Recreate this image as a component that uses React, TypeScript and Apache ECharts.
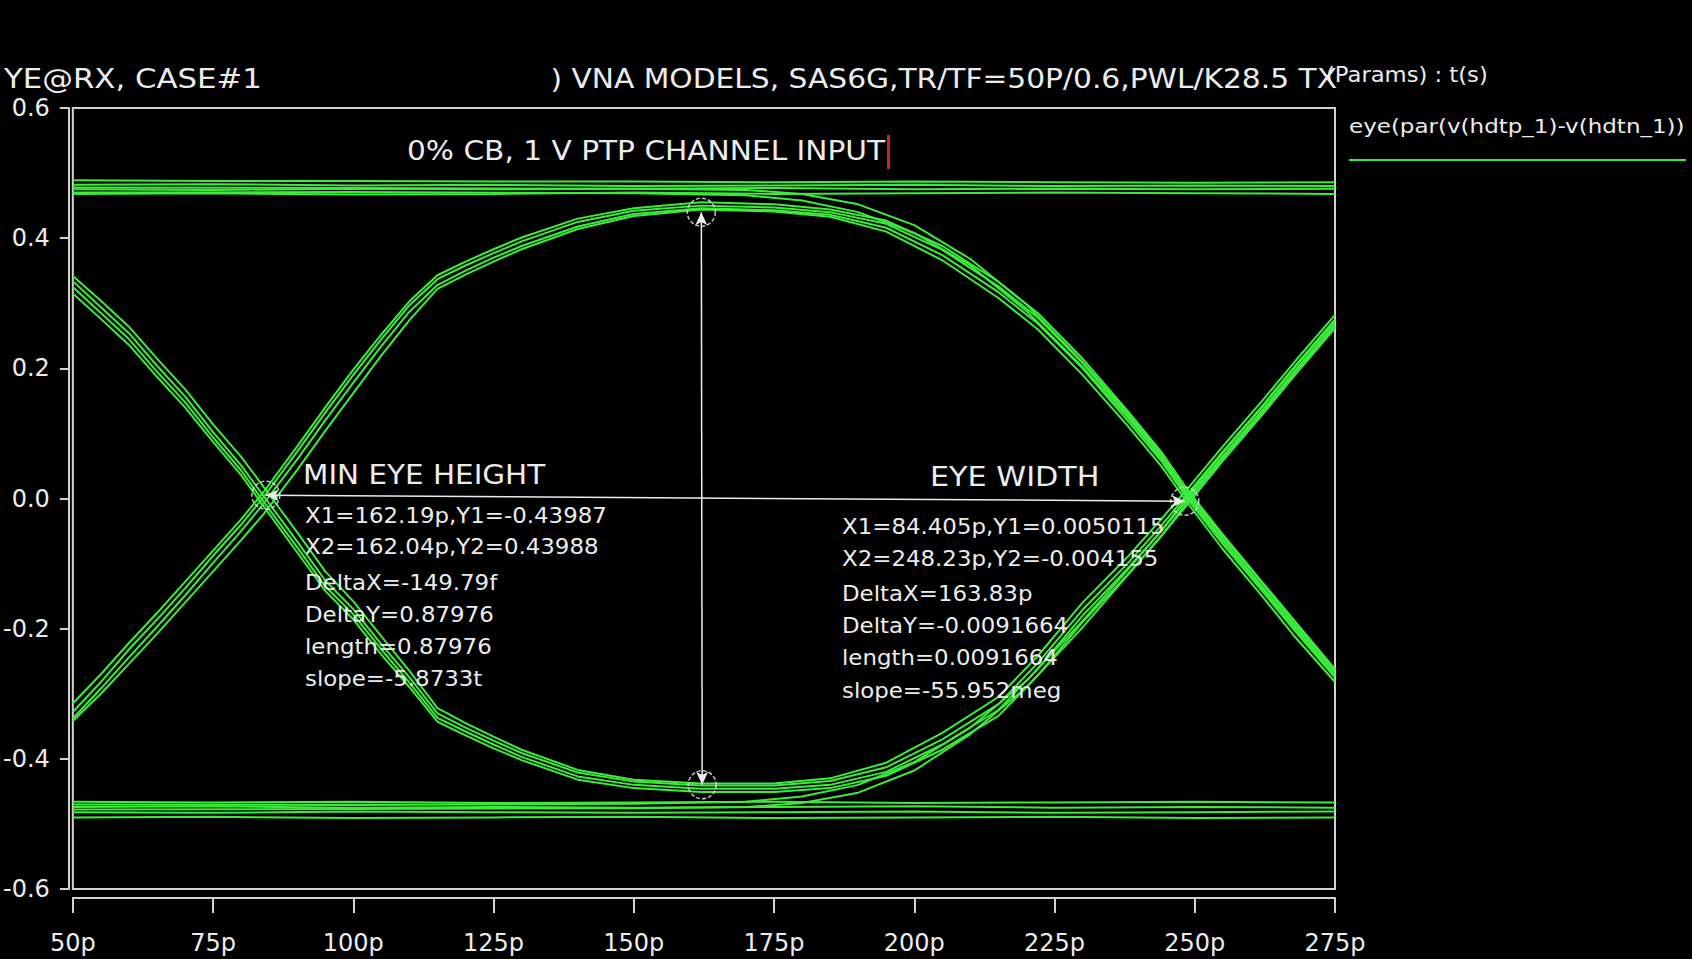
import React, { useEffect, useRef } from "react";
import * as echarts from "echarts";

// ---- time samples (ps) for the eye traces ----
const T = [50, 55, 60, 65, 70, 75, 80, 84, 90, 95, 100, 105, 110, 115, 120, 125, 130, 140, 150, 162, 175, 185, 195, 205, 215, 222, 230, 238, 244, 249, 255, 262, 268, 275];

// rising from the left crossing, upper eye boundary, falling into the right crossing
const ARCH_UP_1 = [-0.328, -0.282, -0.232, -0.186, -0.138, -0.088, -0.04, 0.002, 0.072, 0.132, 0.19, 0.245, 0.297, 0.337, 0.358, 0.377, 0.395, 0.425, 0.442, 0.45, 0.447, 0.44, 0.422, 0.382, 0.326, 0.278, 0.208, 0.128, 0.065, 0.003, -0.062, -0.135, -0.198, -0.268];
const ARCH_UP_2 = [-0.315, -0.27, -0.222, -0.176, -0.128, -0.08, -0.032, 0.01, 0.08, 0.14, 0.198, 0.252, 0.303, 0.343, 0.364, 0.383, 0.401, 0.43, 0.446, 0.455, 0.452, 0.444, 0.427, 0.388, 0.333, 0.285, 0.215, 0.135, 0.072, 0.01, -0.055, -0.128, -0.19, -0.262];
const ARCH_UP_3 = [-0.338, -0.292, -0.244, -0.197, -0.149, -0.099, -0.05, -0.008, 0.06, 0.12, 0.178, 0.234, 0.287, 0.328, 0.35, 0.37, 0.388, 0.418, 0.437, 0.446, 0.443, 0.436, 0.416, 0.374, 0.317, 0.269, 0.2, 0.12, 0.058, -0.004, -0.07, -0.142, -0.205, -0.275];
const ARCH_UP_4 = [-0.342, -0.3, -0.254, -0.208, -0.16, -0.112, -0.064, -0.024, 0.044, 0.104, 0.162, 0.22, 0.274, 0.322, 0.344, 0.364, 0.383, 0.414, 0.434, 0.444, 0.441, 0.433, 0.41, 0.366, 0.308, 0.26, 0.19, 0.112, 0.05, -0.01, -0.078, -0.15, -0.214, -0.282];

// falling from the left crossing, lower eye boundary, rising into the right crossing
const ARCH_DOWN_1 = [0.325, 0.285, 0.245, 0.195, 0.148, 0.094, 0.043, -0.005, -0.075, -0.135, -0.178, -0.232, -0.283, -0.337, -0.358, -0.378, -0.397, -0.427, -0.44, -0.446, -0.446, -0.44, -0.42, -0.378, -0.325, -0.262, -0.18, -0.108, -0.05, 0.002, 0.065, 0.135, 0.198, 0.268];
const ARCH_DOWN_2 = [0.315, 0.276, 0.236, 0.187, 0.14, 0.087, 0.036, -0.012, -0.083, -0.142, -0.186, -0.24, -0.29, -0.343, -0.364, -0.384, -0.402, -0.432, -0.445, -0.451, -0.451, -0.445, -0.426, -0.386, -0.334, -0.272, -0.19, -0.117, -0.058, -0.006, 0.058, 0.128, 0.191, 0.262];
const ARCH_DOWN_3 = [0.334, 0.294, 0.254, 0.204, 0.157, 0.102, 0.051, 0.004, -0.066, -0.126, -0.17, -0.224, -0.275, -0.33, -0.352, -0.372, -0.391, -0.421, -0.435, -0.441, -0.441, -0.434, -0.413, -0.37, -0.316, -0.253, -0.171, -0.1, -0.042, 0.01, 0.072, 0.142, 0.205, 0.275];
const ARCH_DOWN_4 = [0.342, 0.304, 0.264, 0.215, 0.168, 0.114, 0.064, 0.018, -0.052, -0.112, -0.158, -0.212, -0.265, -0.322, -0.345, -0.366, -0.386, -0.417, -0.432, -0.438, -0.438, -0.43, -0.406, -0.36, -0.305, -0.242, -0.16, -0.09, -0.032, 0.018, 0.08, 0.15, 0.212, 0.282];

// long runs of ones / zeros
const FLAT_T = [50, 75, 100, 125, 150, 175, 200, 225, 250, 275];
const TOP_FLAT_1 = [0.489, 0.488, 0.488, 0.487, 0.487, 0.486, 0.487, 0.486, 0.485, 0.486];
const TOP_FLAT_2 = [0.482, 0.483, 0.481, 0.482, 0.48, 0.481, 0.482, 0.48, 0.481, 0.48];
const TOP_FLAT_3 = [0.475, 0.474, 0.476, 0.475, 0.476, 0.477, 0.475, 0.476, 0.475, 0.476];
const TOP_FLAT_4 = [0.468, 0.469, 0.467, 0.468, 0.47, 0.468, 0.469, 0.47, 0.469, 0.468];
const BOT_FLAT_1 = [-0.466, -0.467, -0.466, -0.468, -0.467, -0.466, -0.468, -0.467, -0.466, -0.467];
const BOT_FLAT_2 = [-0.474, -0.473, -0.475, -0.474, -0.475, -0.474, -0.473, -0.475, -0.474, -0.475];
const BOT_FLAT_3 = [-0.482, -0.483, -0.481, -0.482, -0.483, -0.482, -0.481, -0.483, -0.482, -0.481];
const BOT_FLAT_4 = [-0.49, -0.489, -0.491, -0.49, -0.489, -0.491, -0.49, -0.489, -0.491, -0.49];

// runs that leave the rails near the right crossing
const TRANS_T = [50, 100, 150, 170, 180, 190, 200, 210, 220, 230, 238, 244, 249, 255, 262, 268, 275];
const TOP_TO_FALL_1 = [0.478, 0.477, 0.476, 0.474, 0.468, 0.452, 0.42, 0.368, 0.298, 0.21, 0.132, 0.068, 0.006, -0.058, -0.13, -0.194, -0.265];
const TOP_TO_FALL_2 = [0.47, 0.471, 0.469, 0.466, 0.458, 0.44, 0.408, 0.358, 0.288, 0.202, 0.125, 0.062, 0.0, -0.066, -0.138, -0.201, -0.272];
const BOT_TO_RISE_1 = [-0.478, -0.477, -0.476, -0.474, -0.468, -0.452, -0.418, -0.362, -0.29, -0.198, -0.118, -0.058, -0.002, 0.062, 0.132, 0.195, 0.265];
const BOT_TO_RISE_2 = [-0.47, -0.471, -0.469, -0.466, -0.458, -0.44, -0.405, -0.352, -0.28, -0.188, -0.11, -0.05, 0.006, 0.07, 0.14, 0.203, 0.272];

// cursors
const HEIGHT_CURSOR = [[162.04, 0.43988], [162.19, -0.43987]];
const WIDTH_CURSOR = [[84.405, 0.0050115], [248.23, -0.004155]];

// texts
const TITLE_LEFT = "YE@RX, CASE#1";
const TITLE_RIGHT = ") VNA MODELS, SAS6G,TR/TF=50P/0.6,PWL/K28.5 TX";
const PARAMS_TEXT = "(Params) : t(s)";
const LEGEND_TEXT = "eye(par(v(hdtp_1)-v(hdtn_1))";
const SUBTITLE = "0% CB, 1 V PTP CHANNEL INPUT";
const MIN_EYE_TITLE = "MIN EYE HEIGHT";
const MIN_EYE_LINES = ["X1=162.19p,Y1=-0.43987", "X2=162.04p,Y2=0.43988", "DeltaX=-149.79f", "DeltaY=0.87976", "length=0.87976", "slope=-5.8733t"];
const EYE_WIDTH_TITLE = "EYE WIDTH";
const EYE_WIDTH_LINES = ["X1=84.405p,Y1=0.0050115", "X2=248.23p,Y2=-0.004155", "DeltaX=163.83p", "DeltaY=-0.0091664", "length=0.0091664", "slope=-55.952meg"];

const GREEN = "#3bec3b";
const WHITE = "#ececec";
const FRAME = "#d2d2d2";
const FONT = "DejaVu Sans";

function trace(name: string, xs: number[], ys: number[]) {
  return {
    type: "line",
    name,
    data: xs.map((x, i) => [x, ys[i]]),
    showSymbol: false,
    symbol: "none",
    silent: true,
    z: 2,
    lineStyle: { color: GREEN, width: 2 },
  };
}

function txt(text: string, x: number, y: number, size: number, sx = 1, align = "left", fill = WHITE) {
  return {
    type: "text",
    x,
    y,
    scaleX: sx,
    z: 10,
    silent: true,
    style: { text, fill, fontSize: size, fontFamily: FONT, align, verticalAlign: "middle" },
  };
}

export default function App() {
  const ref = useRef<HTMLDivElement>(null);
  useEffect(() => {
    if (!ref.current) return;
    const chart = echarts.init(ref.current, null, { renderer: "svg" });
    const series: any[] = [
      trace("up1", T, ARCH_UP_1),
      trace("up2", T, ARCH_UP_2),
      trace("up3", T, ARCH_UP_3),
      trace("up4", T, ARCH_UP_4),
      trace("down1", T, ARCH_DOWN_1),
      trace("down2", T, ARCH_DOWN_2),
      trace("down3", T, ARCH_DOWN_3),
      trace("down4", T, ARCH_DOWN_4),
      trace("top1", FLAT_T, TOP_FLAT_1),
      trace("top2", FLAT_T, TOP_FLAT_2),
      trace("top3", FLAT_T, TOP_FLAT_3),
      trace("top4", FLAT_T, TOP_FLAT_4),
      trace("bot1", FLAT_T, BOT_FLAT_1),
      trace("bot2", FLAT_T, BOT_FLAT_2),
      trace("bot3", FLAT_T, BOT_FLAT_3),
      trace("bot4", FLAT_T, BOT_FLAT_4),
      trace("tf1", TRANS_T, TOP_TO_FALL_1),
      trace("tf2", TRANS_T, TOP_TO_FALL_2),
      trace("br1", TRANS_T, BOT_TO_RISE_1),
      trace("br2", TRANS_T, BOT_TO_RISE_2),
      {
        type: "line",
        name: "cursors",
        data: [],
        silent: true,
        z: 5,
        markLine: {
          silent: true,
          animation: false,
          symbol: ["arrow", "arrow"],
          symbolSize: [9, 13],
          label: { show: false },
          lineStyle: { color: WHITE, width: 1.5, type: "solid" },
          data: [
            [{ coord: HEIGHT_CURSOR[0] }, { coord: HEIGHT_CURSOR[1] }],
            [{ coord: WIDTH_CURSOR[0] }, { coord: WIDTH_CURSOR[1] }],
          ],
        },
      },
      {
        type: "scatter",
        name: "cursorRings",
        data: [...HEIGHT_CURSOR, ...WIDTH_CURSOR],
        symbol: "circle",
        symbolSize: 28,
        silent: true,
        z: 6,
        itemStyle: { color: "rgba(0,0,0,0)", borderColor: WHITE, borderWidth: 1.5, borderType: [4, 2] },
      },
    ];

    const graphic: any[] = [
      txt(TITLE_LEFT, 4, 79, 27, 1.14),
      txt(TITLE_RIGHT, 1337, 79, 27, 1.1, "right"),
      txt(PARAMS_TEXT, 1326, 75, 21, 1.08),
      txt(LEGEND_TEXT, 1349, 126, 20, 1.15),
      { type: "line", z: 10, silent: true, shape: { x1: 1349, y1: 160, x2: 1686, y2: 160 }, style: { stroke: GREEN, lineWidth: 2 } },
      txt(SUBTITLE, 407, 151, 26, 1.14),
      { type: "rect", z: 10, silent: true, shape: { x: 887, y: 135, width: 3, height: 34 }, style: { fill: "#c4262a" } },
      txt(MIN_EYE_TITLE, 303, 475, 27, 1.09),
      txt(EYE_WIDTH_TITLE, 930, 477, 27, 1.12),
    ];
    const leftY = [516, 547, 583, 615, 647, 679];
    MIN_EYE_LINES.forEach((s, i) => graphic.push(txt(s, 305, leftY[i], 21, 1.09)));
    const rightY = [527, 559, 594, 626, 658, 691];
    EYE_WIDTH_LINES.forEach((s, i) => graphic.push(txt(s, 842, rightY[i], 21, 1.09)));

    chart.setOption({
      animation: false,
      backgroundColor: "#000",
      grid: {
        left: 71,
        top: 108,
        width: 1264,
        height: 781,
        show: true,
        borderColor: FRAME,
        borderWidth: 2,
        backgroundColor: "#000",
      },
      xAxis: {
        type: "value",
        min: 50,
        max: 275,
        interval: 25,
        offset: 9,
        axisLine: { show: true, onZero: false, lineStyle: { color: FRAME, width: 2 } },
        axisTick: { show: true, length: 15, lineStyle: { color: FRAME, width: 2 } },
        axisLabel: { color: WHITE, fontSize: 24, fontFamily: FONT, margin: 33, formatter: (v: number) => `${v}p` },
        splitLine: { show: false },
      },
      yAxis: {
        type: "value",
        min: -0.6,
        max: 0.6,
        interval: 0.2,
        offset: 4,
        axisLine: { show: true, onZero: false, lineStyle: { color: FRAME, width: 2 } },
        axisTick: { show: true, length: 9, lineStyle: { color: FRAME, width: 2 } },
        axisLabel: { color: WHITE, fontSize: 24, fontFamily: FONT, margin: 19, formatter: (v: number) => v.toFixed(1) },
        splitLine: { show: false },
      },
      series,
      graphic,
    });
    return () => chart.dispose();
  }, []);
  return (
    <div
      ref={ref}
      style={{ position: "fixed", left: 0, top: 0, width: 1692, height: 959, background: "#000" }}
    />
  );
}
